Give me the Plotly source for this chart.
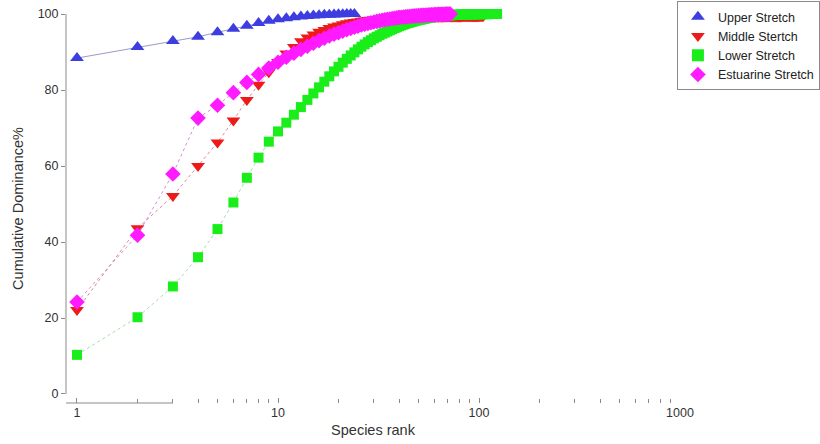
import plotly.graph_objects as go

series_names = ["Upper Stretch", "Middle Stertch", "Lower Stretch", "Estuarine Stretch"]

upper = [88.4, 91.3, 92.9, 94.0, 95.2, 96.1, 96.9, 97.6, 98.2, 98.6,
         98.9, 99.15, 99.35, 99.5, 99.6, 99.7, 99.77, 99.83, 99.88, 99.92,
         99.95, 99.97, 99.99, 100.0]

middle = [22.1, 43.6, 52.1, 60.0, 66.2, 72.0, 77.4, 81.4, 84.7, 87.4,
          89.6, 91.3, 92.8, 93.8, 94.6, 95.3, 95.8, 96.3, 96.7, 97.0,
          97.3, 97.55, 97.75, 97.9, 98.05, 98.2, 98.3, 98.4, 98.5, 98.55,
          98.6, 98.65, 98.7, 98.75, 98.8, 98.84, 98.88, 98.91, 98.94, 98.97,
          99.0, 99.02, 99.04, 99.06, 99.08, 99.1, 99.11, 99.12, 99.13, 99.14,
          99.15, 99.16, 99.17, 99.18, 99.19, 99.2, 99.21, 99.22, 99.23, 99.24,
          99.25, 99.26, 99.27, 99.28, 99.29, 99.3, 99.3, 99.31, 99.31, 99.32,
          99.32, 99.33, 99.33, 99.34, 99.34, 99.35, 99.35, 99.36, 99.36, 99.37,
          99.37, 99.38, 99.38, 99.39, 99.39, 99.4, 99.4, 99.4, 99.41, 99.41,
          99.41, 99.42, 99.42, 99.42, 99.43, 99.43, 99.43, 99.44, 99.44, 99.44,
          99.45, 99.45, 99.45, 99.45, 99.46]

lower = [10.3, 20.2, 28.3, 36.0, 43.4, 50.4, 56.9, 62.2, 66.4, 69.1,
         71.4, 73.5, 75.5, 77.4, 79.1, 80.7, 82.2, 83.6, 84.9, 86.1,
         87.2, 88.2, 89.1, 89.9, 90.7, 91.4, 92.0, 92.6, 93.1, 93.6,
         94.0, 94.4, 94.8, 95.1, 95.4, 95.7, 96.0, 96.3, 96.5, 96.8,
         97.0, 97.2, 97.4, 97.6, 97.7, 97.9, 98.0, 98.2, 98.3, 98.4,
         98.5, 98.6, 98.7, 98.8, 98.9, 99.0, 99.05, 99.1, 99.2, 99.25,
         99.3, 99.35, 99.4, 99.45, 99.5, 99.52, 99.55, 99.58, 99.6, 99.63,
         99.65, 99.67, 99.7, 99.72, 99.74, 99.76, 99.78, 99.8, 99.81, 99.82,
         99.83, 99.84, 99.85, 99.86, 99.87, 99.88, 99.89, 99.9, 99.9, 99.91,
         99.92, 99.92, 99.93, 99.93, 99.94, 99.94, 99.95, 99.95, 99.96, 99.96,
         99.96, 99.97, 99.97, 99.97, 99.98, 99.98, 99.98, 99.98, 99.99, 99.99,
         99.99, 99.99, 99.99, 99.99, 100.0, 100.0, 100.0, 100.0, 100.0, 100.0,
         100.0, 100.0, 100.0]

estuarine = [24.2, 41.8, 57.9, 72.6, 76.0, 79.3, 82.0, 84.1, 85.8, 87.3,
             88.6, 89.7, 90.7, 91.5, 92.3, 93.0, 93.6, 94.2, 94.7, 95.1,
             95.5, 95.9, 96.2, 96.5, 96.8, 97.1, 97.3, 97.5, 97.7, 97.9,
             98.05, 98.2, 98.35, 98.5, 98.6, 98.7, 98.8, 98.9, 99.0, 99.1,
             99.15, 99.2, 99.25, 99.3, 99.35, 99.4, 99.45, 99.5, 99.53, 99.56,
             99.6, 99.63, 99.66, 99.69, 99.72, 99.75, 99.77, 99.79, 99.81, 99.83,
             99.85, 99.87, 99.89, 99.9, 99.92, 99.93, 99.94, 99.96, 99.97, 99.98,
             99.99, 100.0]

x_tickvals = [1, 10, 100, 1000]
x_ticktext = ["1", "10", "100", "1000"]
x_minor = [2, 3, 4, 5, 6, 7, 8, 9, 20, 30, 40, 50, 60, 70, 80, 90,
           200, 300, 400, 500, 600, 700, 800, 900]
y_tickvals = [0, 20, 40, 60, 80, 100]

all_series = [upper, middle, lower, estuarine]
marker_colors = ["#3d3de0", "#ee1a1a", "#1aee1a", "#ff1aff"]
line_colors = ["#9a9ac8", "#d98c8c", "#a6dca6", "#d98cd9"]
line_dash = ["solid", "dot", "dot", "dot"]
symbols = ["triangle-up", "triangle-down", "square", "diamond"]
sizes = [12, 12, 10, 12]

FONT = "Liberation Sans, Arial, sans-serif"

fig = go.Figure()
for name, vals, mc, lc, dash, sym, sz in zip(series_names, all_series, marker_colors,
                                             line_colors, line_dash, symbols, sizes):
    ranks = list(range(1, len(vals) + 1))
    fig.add_trace(go.Scatter(
        x=ranks, y=vals, mode="lines+markers", name=name, showlegend=False,
        line=dict(color=lc, width=1, dash=dash),
        marker=dict(symbol=sym, size=sz, color=mc, line=dict(width=0)),
        cliponaxis=False,
    ))

for name, mc, sym, sz in zip(series_names, marker_colors, symbols, sizes):
    fig.add_trace(go.Scatter(
        x=[None], y=[None], mode="markers", name=name, showlegend=True,
        marker=dict(symbol=sym, size=sz, color=mc, line=dict(width=0)),
    ))

axis_color = "#8a8a8a"
fig.update_layout(
    width=820, height=444,
    margin=dict(l=66, r=140, t=14, b=41, pad=0, autoexpand=False),
    paper_bgcolor="white", plot_bgcolor="white",
    font=dict(family=FONT, size=12, color="#333333"),
    showlegend=True,
    legend=dict(
        x=0.995, y=1.033, xanchor="left", yanchor="top",
        bordercolor="#8a8a8a", borderwidth=1, bgcolor="white",
        font=dict(family=FONT, size=12.5, color="#222222"),
        itemsizing="constant", tracegroupgap=0,
    ),
    shapes=[
        dict(type="line", xref="x", yref="paper", x0=0, x1=3, y0=0, y1=0,
             line=dict(color=axis_color, width=1)),
        dict(type="line", xref="paper", yref="y", x0=0, x1=0, y0=0, y1=100,
             line=dict(color=axis_color, width=1)),
    ],
)

fig.update_xaxes(
    type="log", range=[-0.0547, 3.0], automargin=False,
    showgrid=False, zeroline=False, showline=False,
    tickmode="array", tickvals=x_tickvals, ticktext=x_ticktext,
    ticks="inside", ticklen=5, tickcolor=axis_color, tickwidth=1,
    minor=dict(ticks="inside", ticklen=4, tickcolor=axis_color, tickvals=x_minor, showgrid=False),
    tickfont=dict(family=FONT, size=12.5, color="#333333"),
    title=dict(text="Species rank", font=dict(family=FONT, size=14.5, color="#333333"), standoff=6),
)
fig.update_yaxes(
    range=[-2.37, 100], automargin=False,
    showgrid=False, zeroline=False, showline=False,
    tickmode="array", tickvals=y_tickvals,
    ticks="outside", ticklen=4, tickcolor=axis_color, tickwidth=1,
    tickfont=dict(family=FONT, size=12.5, color="#333333"),
    title=dict(text="Cumulative Dominance%", font=dict(family=FONT, size=14.5, color="#333333"), standoff=10),
)

fig.write_html("out.html")
